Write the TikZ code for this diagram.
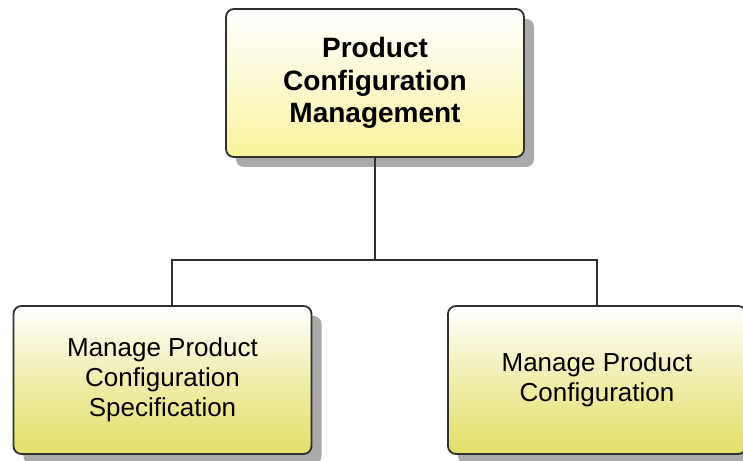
\documentclass[tikz,border=0pt]{standalone}
\usepackage{fontspec}
\setmainfont{Liberation Sans}
\usetikzlibrary{shadows}
\definecolor{lineclr}{HTML}{303030}
\definecolor{rootyel}{HTML}{F9F39A}
\definecolor{leafyel}{HTML}{E3DF68}
\definecolor{shadowclr}{HTML}{AAAAAA}
\tikzset{
  procbox/.style={draw=lineclr, line width=1.8bp, rounded corners=8bp,
    minimum width=298bp, minimum height=148bp, align=center, inner sep=0pt,
    top color=white,
    drop shadow={shadow xshift=10bp, shadow yshift=-10bp, fill=shadowclr, opacity=1}},
  rootbox/.style={procbox, bottom color=rootyel, middle color=white!55!rootyel,
    font=\fontsize{28bp}{32.5bp}\selectfont\bfseries},
  leafbox/.style={procbox, bottom color=leafyel, middle color=white!45!leafyel,
    font=\fontsize{26bp}{30bp}\selectfont},
  link/.style={draw=lineclr, line width=2bp}
}
\begin{document}
\begin{tikzpicture}[x=1bp,y=-1bp]
  \useasboundingbox (0,0) rectangle (743,461);
  \fill[white] (0,0) rectangle (743,461);

  % process boxes
  \node[rootbox] (root) at (375,83) {Product\\Configuration\\Management};
  \node[leafbox] (spec) at (162.5,380) {Manage Product\\Configuration\\Specification};
  \node[leafbox] (conf) at (597,380) {Manage Product\\Configuration};

  % hierarchy links
  \coordinate (bus) at (375,260);
  \draw[link] (root.south) -- (bus);
  \draw[link] (bus) -| ([xshift=9.5bp]spec.north);
  \draw[link] (bus) -| (conf.north);
\end{tikzpicture}
\end{document}
